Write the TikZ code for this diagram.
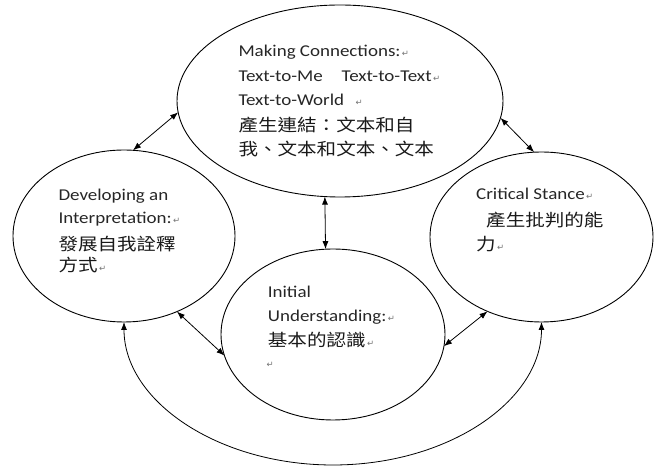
\documentclass[tikz,border=0pt]{standalone}
\usepackage{fontspec}
\setmainfont{Carlito}[FakeStretch=1.15]
\newfontfamily\cjkfont{Noto Sans CJK TC}[FakeStretch=1.15]
\newfontfamily\djvfont{DejaVu Sans}
\usetikzlibrary{shapes.geometric,arrows.meta}
\newcommand\parmk{{\djvfont\fontsize{8.5}{8.5}\selectfont\color{black!55}\,↵}}
\newcommand\entxt{\fontsize{16.5}{20}\selectfont\color{black!85}}
\newcommand\zhtxt{\cjkfont\fontsize{17}{20}\selectfont\color{black!90}}
\tikzset{
  ell/.style={ellipse, draw, line width=0.9pt, inner sep=0pt, outer sep=0pt},
  conn/.style={{Latex[length=8pt,width=6pt]}-{Latex[length=8pt,width=6pt]}, line width=0.8pt},
  en/.style={anchor=base west, inner sep=0pt, font=\entxt},
  zh/.style={anchor=base west, inner sep=0pt, font=\zhtxt}
}
\begin{document}
\begin{tikzpicture}[x=1pt,y=1pt]
\useasboundingbox (0,0) rectangle (654,468);
% ellipses
\node[ell, minimum width=326pt, minimum height=192pt] (top) at (340,367) {};
\node[ell, minimum width=222pt, minimum height=172pt] (dev) at (124,232) {};
\node[ell, minimum width=223pt, minimum height=170pt] (crit) at (541.5,231) {};
\node[ell, minimum width=224pt, minimum height=171pt] (init) at (333,133.5) {};
\coordinate (arcb) at (333,3);
% connectors
\draw[conn] (top.184.9) -- (dev.84);
\draw[conn] (top.354.2) -- (crit.95.6);
\draw[conn] (top.261.5) -- (init.95.4);
\draw[conn] (dev.305.4) -- (init.191.9);
\draw[conn] (crit.234.5) -- (init.354.1);
\draw[conn] (dev.south) .. controls (124,67) and (218,3) .. (arcb)
            .. controls (448,3) and (541.5,67) .. (crit.south);
% top text
\node[en] (t1) at (238.3,411) {Making Connections:\parmk};
\node[en] (t2) at (238.3,386) {Text-to-Me\hspace{19pt}Text-to-Text\parmk};
\node[en] (t3) at (238.3,362) {Text-to-World\hspace{10pt}\parmk};
\node[zh] (t4) at (238.3,336) {產生連結：文本和自};
\node[zh] (t5) at (238.3,312) {我、文本和文本、文本};
% left text
\node[en] (d1) at (58.3,267.3) {Developing an};
\node[en] (d2) at (58.3,244) {Interpretation:\parmk};
\node[zh] (d3) at (58.3,217) {發展自我詮釋};
\node[zh] (d4) at (58.3,196) {方式\parmk};
% right text
\node[en] (c1) at (476,268) {Critical Stance\parmk};
\node[zh] (c2) at (486,241) {產生批判的能};
\node[zh] (c3) at (476,217) {力\parmk};
% middle text
\node[en] (i1) at (267.7,170) {Initial};
\node[en] (i2) at (267.7,146.3) {Understanding:\parmk};
\node[zh] (i3) at (267.7,121) {基本的認識\parmk};
\node[en] (i4) at (265,100) {\parmk};
\end{tikzpicture}
\end{document}
